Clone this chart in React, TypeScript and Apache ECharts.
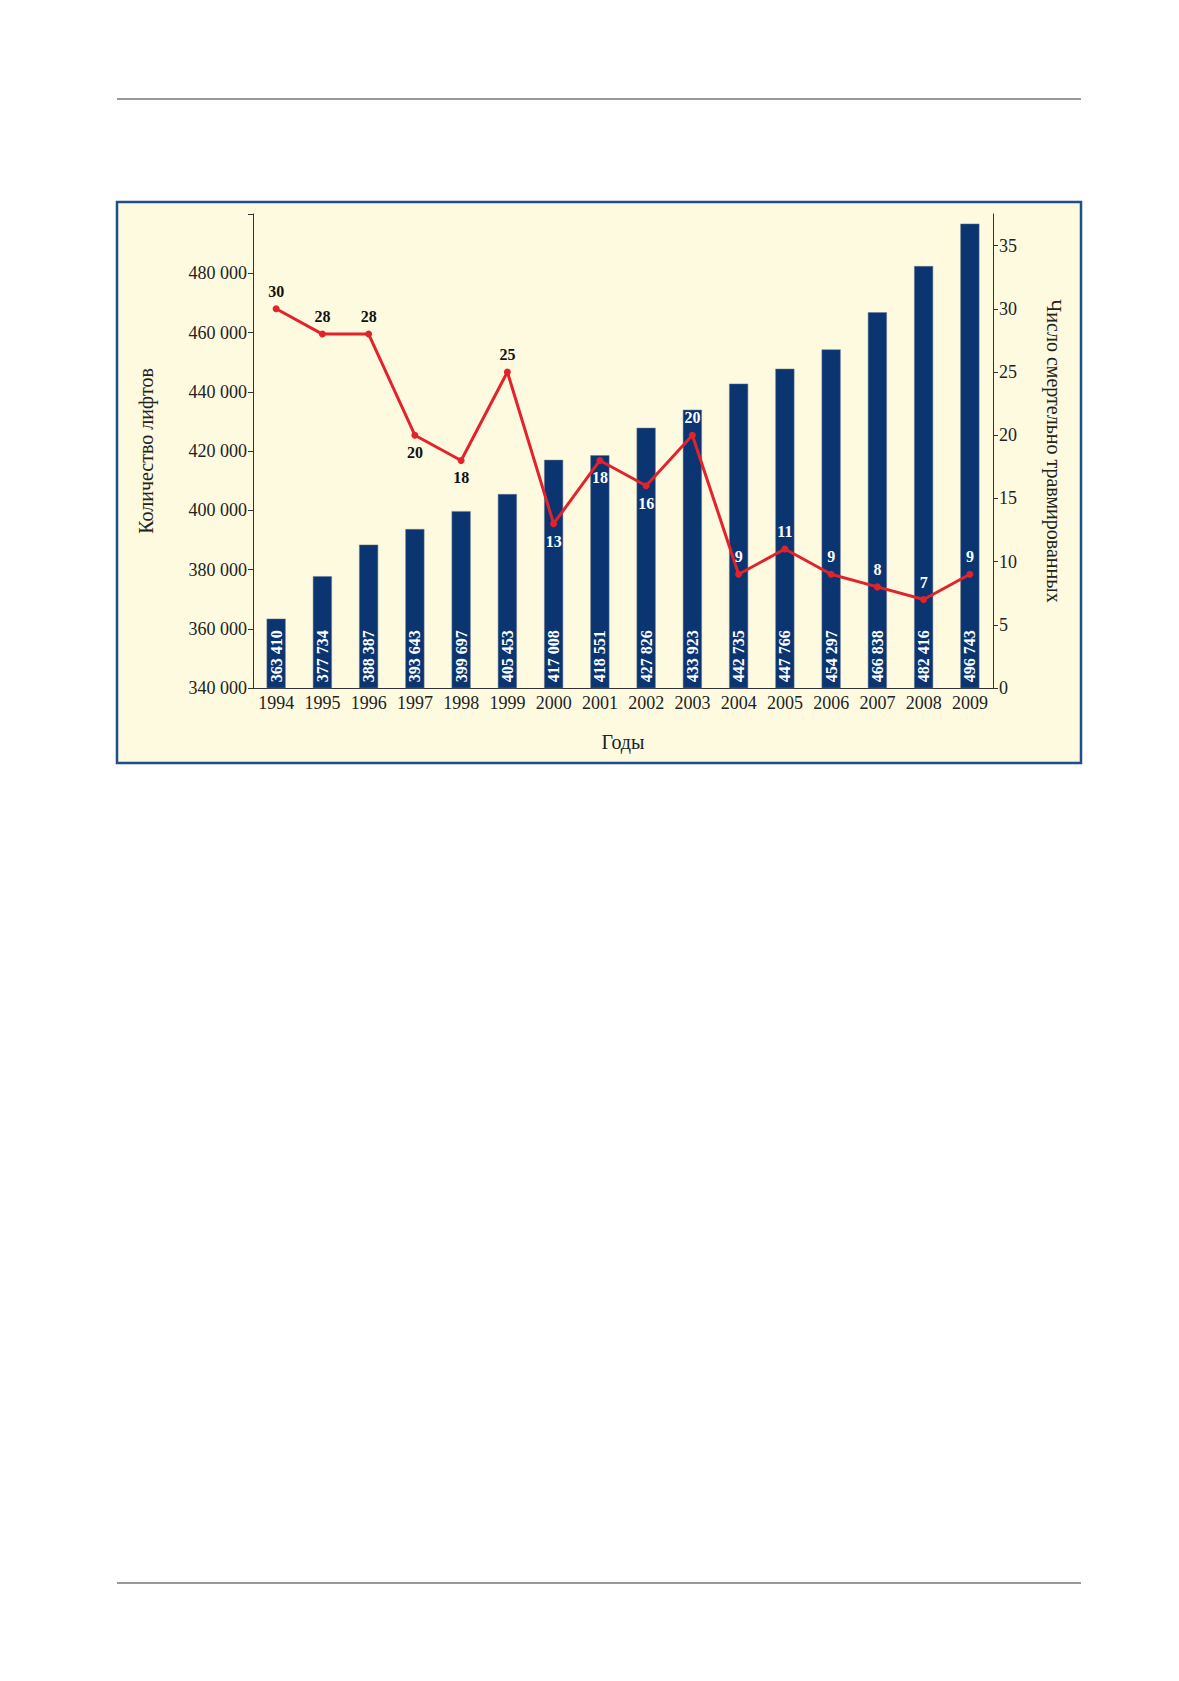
import { useEffect, useRef } from 'react'
import * as echarts from 'echarts'

const years = ['1994', '1995', '1996', '1997', '1998', '1999', '2000', '2001', '2002', '2003', '2004', '2005', '2006', '2007', '2008', '2009']
const lifts = [363410, 377734, 388387, 393643, 399697, 405453, 417008, 418551, 427826, 433923, 442735, 447766, 454297, 466838, 482416, 496743]
const deaths = [30, 28, 28, 20, 18, 25, 13, 18, 16, 20, 9, 11, 9, 8, 7, 9]
// label placement per point: above/below, text colour
const deathLabelPos = ['top', 'top', 'top', 'bottom', 'bottom', 'top', 'bottom', 'bottom', 'bottom', 'top', 'top', 'top', 'top', 'top', 'top', 'top']
const deathLabelColor = ['#111', '#111', '#111', '#111', '#111', '#111', '#fff', '#fff', '#fff', '#fff', '#fff', '#fff', '#fff', '#fff', '#fff', '#fff']

const fmt = (v: number) => String(v).replace(/\B(?=(\d{3})+(?!\d))/g, ' ')
const FONT = '"Liberation Serif", "DejaVu Serif", serif'

export default function App() {
  const chartRef = useRef<HTMLDivElement>(null)

  useEffect(() => {
    if (!chartRef.current) return
    const chart = echarts.init(chartRef.current, null, { renderer: 'svg' })

    const option = {
      animation: false,
      textStyle: { fontFamily: FONT },
      graphic: [
        { type: 'line', shape: { x1: 117, y1: 99, x2: 1081, y2: 99 }, style: { stroke: '#777', lineWidth: 1.5 } },
        { type: 'line', shape: { x1: 117, y1: 1583, x2: 1081, y2: 1583 }, style: { stroke: '#777', lineWidth: 1.5 } },
        {
          type: 'rect', z: -10,
          shape: { x: 117, y: 202, width: 964, height: 561 },
          style: { fill: '#fdfae0', stroke: '#1f4e8c', lineWidth: 2.5 }
        }
      ],
      grid: { left: 253, right: 186, top: 214, bottom: 993 },
      xAxis: {
        type: 'category',
        data: years,
        name: 'Годы',
        nameLocation: 'middle',
        nameGap: 44,
        nameTextStyle: { fontSize: 20, color: '#222', fontFamily: FONT },
        axisLine: { lineStyle: { color: '#333' } },
        axisTick: { alignWithLabel: false, length: 4, lineStyle: { color: '#333' } },
        axisLabel: { fontSize: 18, color: '#222', margin: 6, interval: 0, fontFamily: FONT }
      },
      yAxis: [
        {
          type: 'value',
          min: 340000,
          max: 500000,
          interval: 20000,
          name: 'Количество лифтов',
          nameLocation: 'middle',
          nameGap: 97,
          nameTextStyle: { fontSize: 20, color: '#222', fontFamily: FONT },
          splitLine: { show: false },
          axisLine: { show: true, lineStyle: { color: '#333' } },
          axisTick: { show: true, length: 5, lineStyle: { color: '#333' } },
          axisLabel: {
            fontSize: 18, color: '#222', margin: 6, fontFamily: FONT,
            formatter: (v: number) => (v <= 480000 ? fmt(v) : '')
          }
        },
        {
          type: 'value',
          min: 0,
          max: 37.5,
          interval: 5,
          position: 'right',
          name: 'Число смертельно травмированных',
          nameLocation: 'middle',
          nameRotate: -90,
          nameGap: 51,
          nameTextStyle: { fontSize: 20, color: '#222', fontFamily: FONT },
          splitLine: { show: false },
          axisLine: { show: true, lineStyle: { color: '#333' } },
          axisTick: { show: true, length: 5, lineStyle: { color: '#333' } },
          axisLabel: {
            fontSize: 18, color: '#222', margin: 6, fontFamily: FONT,
            formatter: (v: number) => (v <= 35 ? String(v) : ''),
            showMaxLabel: false
          }
        }
      ],
      series: [
        {
          type: 'bar',
          yAxisIndex: 0,
          data: lifts,
          barWidth: 19,
          itemStyle: { color: '#0a3570', borderColor: '#6b7890', borderWidth: 0.5 },
          label: {
            show: true,
            position: 'insideBottom',
            rotate: 90,
            align: 'left',
            verticalAlign: 'middle',
            distance: 6,
            color: '#fff',
            fontWeight: 'bold',
            fontSize: 16,
            fontFamily: FONT,
            formatter: (p: any) => fmt(p.value)
          }
        },
        {
          type: 'line',
          yAxisIndex: 1,
          symbol: 'circle',
          symbolSize: 7,
          lineStyle: { color: '#e3232c', width: 3 },
          itemStyle: { color: '#e3232c' },
          z: 5,
          data: deaths.map((v, i) => ({
            value: v,
            label: {
              show: true,
              position: deathLabelPos[i],
              distance: 6,
              color: deathLabelColor[i],
              fontWeight: 'bold',
              fontSize: 16,
              fontFamily: FONT
            }
          }))
        }
      ]
    }

    chart.setOption(option)
    return () => chart.dispose()
  }, [])

  return (
    <div
      ref={chartRef}
      style={{ position: 'absolute', left: 0, top: 0, width: 1179, height: 1681, background: '#fff' }}
    />
  )
}
